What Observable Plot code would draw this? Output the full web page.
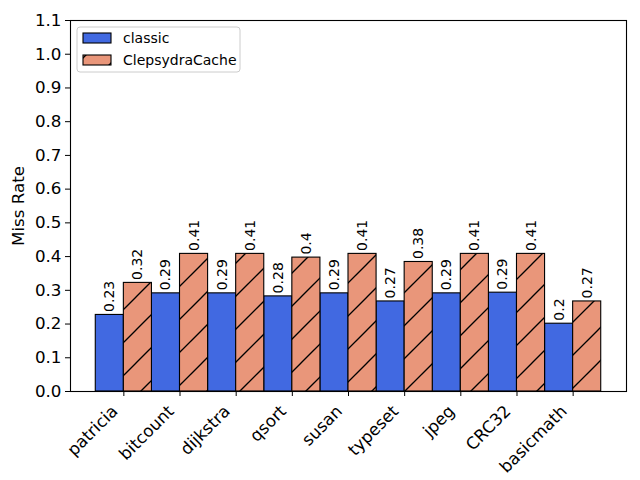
<!DOCTYPE html>
<html>
<head>
<meta charset="utf-8">
<script src="https://cdn.jsdelivr.net/npm/d3@7"></script>
<script src="https://cdn.jsdelivr.net/npm/@observablehq/plot@0.6"></script>
<style>
  html, body { margin: 0; padding: 0; background: #fff; }
  svg { font-family: "DejaVu Sans", sans-serif; }
</style>
</head>
<body>
<div id="chart"></div>
<script>
const categories = ["patricia", "bitcount", "dijkstra", "qsort", "susan", "typeset", "jpeg", "CRC32", "basicmath"];
const classic = [0.227, 0.291, 0.291, 0.282, 0.291, 0.267, 0.291, 0.293, 0.201];
const clepsydra = [0.322, 0.408, 0.408, 0.397, 0.408, 0.384, 0.408, 0.408, 0.267];
const seriesNames = ["classic", "ClepsydraCache"];
const yTicks = [0, 0.1, 0.2, 0.3, 0.4, 0.5, 0.6, 0.7, 0.8, 0.9, 1.0, 1.1];

const barW = 0.5;
const rows = categories.flatMap((c, i) => [
  {cat: c, i, s: seriesNames[0], v: classic[i], x1: i - barW, x2: i},
  {cat: c, i, s: seriesNames[1], v: clepsydra[i], x1: i, x2: i + barW}
]);
const fmt = v => String(Math.round(v * 100) / 100);
const xTicks = d3.range(categories.length);

const plot = Plot.plot({
  width: 640,
  height: 480,
  marginLeft: 70,
  marginRight: 14,
  marginTop: 20,
  marginBottom: 89,
  style: {fontFamily: "DejaVu Sans, sans-serif", background: "white", color: "black"},
  x: {domain: [-0.95, categories.length - 1 + 0.95]},
  y: {domain: [0, 1.1]},
  marks: [
    Plot.rectY(rows.filter(d => d.s === seriesNames[0]), {x1: "x1", x2: "x2", y: "v", fill: "#4169E1", stroke: "black", strokeWidth: 1.1}),
    Plot.rectY(rows.filter(d => d.s === seriesNames[1]), {x1: "x1", x2: "x2", y: "v", fill: "url(#hatchClep)", stroke: "black", strokeWidth: 1.1}),
    Plot.text(rows, {x: d => (d.x1 + d.x2) / 2, y: "v", text: d => fmt(d.v), rotate: -90, textAnchor: "start", lineAnchor: "middle", dy: -3, fontSize: 14, fill: "black"}),
    Plot.frame({stroke: "black", strokeWidth: 1.1}),
    Plot.axisY({ticks: yTicks, tickFormat: d3.format(".1f"), tickSize: 5, tickPadding: 4, fontSize: 16.7, label: "Miss Rate", labelAnchor: "center", labelArrow: "none", labelOffset: 58}),
    Plot.axisX({ticks: xTicks, tickFormat: () => "", tickSize: 5, label: null}),
    Plot.axisX({ticks: xTicks, tickFormat: i => categories[i], tickSize: 0, tickPadding: 0, tickRotate: -45, fontSize: 16.7, label: null, dx: -9, dy: 17})
  ]
});

const svg = d3.select(plot);
const defs = svg.insert("defs", ":first-child");
const pat = defs.append("pattern")
  .attr("id", "hatchClep")
  .attr("patternUnits", "userSpaceOnUse")
  .attr("width", 33).attr("height", 33)
  .attr("patternTransform", "translate(4,0)");
pat.append("rect").attr("width", 33).attr("height", 33).attr("fill", "#E9967A");
[[0, 33, 33, 0], [-2, 2, 2, -2], [31, 35, 35, 31]].forEach(([a, b, c, d]) => {
  pat.append("line").attr("x1", a).attr("y1", b).attr("x2", c).attr("y2", d)
    .attr("stroke", "black").attr("stroke-width", 1.3);
});

// legend (upper left, inside the axes)
const lg = svg.append("g").attr("transform", "translate(77,27)")
  .attr("text-anchor", "start");
lg.append("rect").attr("width", 163).attr("height", 45).attr("rx", 3)
  .attr("fill", "white").attr("fill-opacity", 0.8).attr("stroke", "#cccccc");
const fills = ["#4169E1", "url(#hatchClep)"];
seriesNames.forEach((name, k) => {
  const yy = 6 + k * 22;
  lg.append("rect").attr("x", 6).attr("y", yy).attr("width", 28).attr("height", 10)
    .attr("fill", fills[k]).attr("stroke", "black").attr("stroke-width", 1.1);
  lg.append("text").attr("x", 46).attr("y", yy + 10).attr("font-size", 14)
    .attr("text-anchor", "start").attr("fill", "black").text(name);
});

document.getElementById("chart").appendChild(plot);
</script>
</body>
</html>
